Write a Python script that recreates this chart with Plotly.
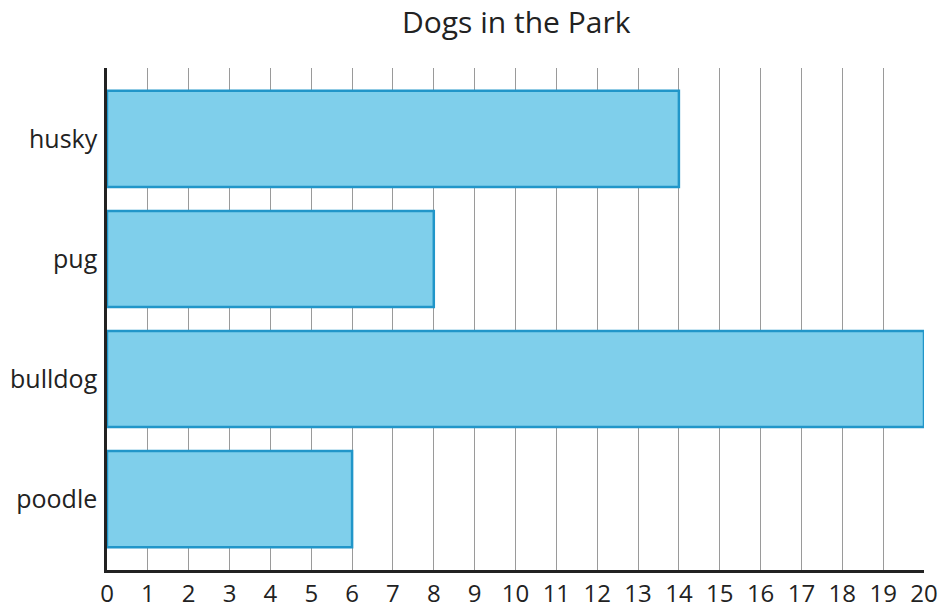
import plotly.graph_objects as go

categories = ["husky", "pug", "bulldog", "poodle"]
counts = [14, 8, 20, 6]
x_ticks = list(range(0, 21))

fig = go.Figure()
fig.add_trace(go.Bar(
    x=counts,
    y=categories,
    orientation="h",
    marker=dict(color="#7fcfeb", line=dict(color="#2196c9", width=2.5)),
    cliponaxis=False,
    hoverinfo="x+y",
))

fig.update_layout(
    width=942,
    height=605,
    paper_bgcolor="white",
    plot_bgcolor="white",
    font=dict(family="Open Sans", color="#222222", size=25),
    title=dict(text="Dogs in the Park", x=0.548, xanchor="center", y=0.9636, yref="container",
               yanchor="middle",
               font=dict(size=30, family="Open Sans", color="#222222")),
    margin=dict(l=107, r=18, t=68, b=35, autoexpand=False),
    bargap=0.2,
    showlegend=False,
    xaxis=dict(
        range=[0, 20],
        tickvals=x_ticks,
        ticktext=[str(v) for v in x_ticks],
        showgrid=True,
        gridcolor="#9a9a9a",
        gridwidth=1.3,
        zeroline=False,
        showline=True,
        linecolor="#222222",
        linewidth=2.5,
        ticks="",
        ticklabelstandoff=0,
        automargin=False,
        tickfont=dict(size=24),
    ),
    yaxis=dict(
        type="category",
        categoryorder="array",
        categoryarray=categories,
        range=[3.59, -0.59],
        showgrid=False,
        zeroline=False,
        showline=True,
        linecolor="#222222",
        linewidth=2.5,
        ticks="",
        ticklabelstandoff=2,
        automargin=False,
        tickfont=dict(size=25),
    ),
)

fig.write_html(
    "out.html",
    config={"displayModeBar": False},
    post_script="document.body.style.margin='0';document.body.style.overflow='hidden';",
)
